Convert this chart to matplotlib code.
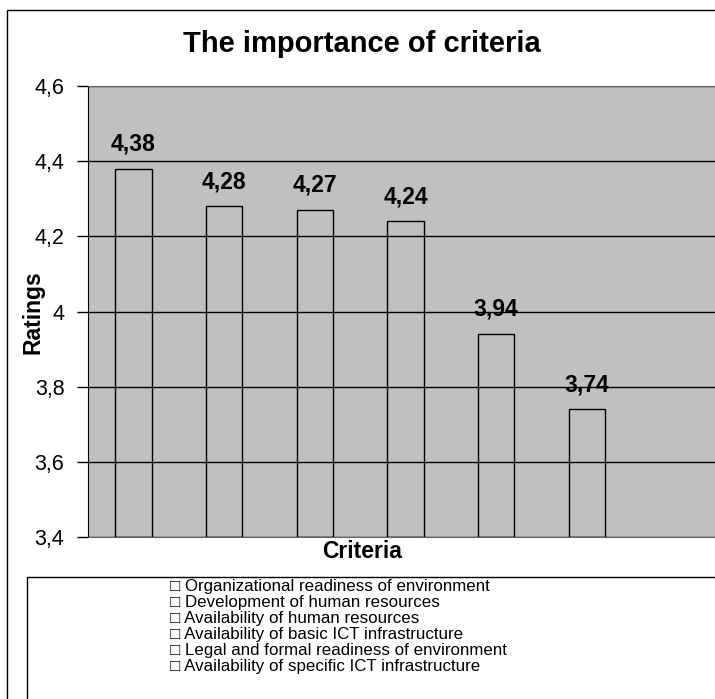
import matplotlib.pyplot as plt
from matplotlib.patches import Rectangle
from matplotlib import ticker

criteria = ['Organizational readiness of environment',
            'Development of human resources',
            'Availability of human resources',
            'Availability of basic ICT infrastructure',
            'Legal and formal readiness of environment',
            'Availability of specific ICT infrastructure']
ratings = [4.38, 4.28, 4.27, 4.24, 3.94, 3.74]
y_ticks = [3.4, 3.6, 3.8, 4.0, 4.2, 4.4, 4.6]

plt.rcParams['font.family'] = ['Liberation Sans', 'DejaVu Sans']

W, H = 715, 699
fig = plt.figure(figsize=(W / 100, H / 100), dpi=100)

# plot area in pixels: left 88, top 86, bottom 537, right past the image edge
left, top, bottom, right = 88, 86, 537, 723
ax = fig.add_axes([left / W, 1 - bottom / H, (right - left) / W, (bottom - top) / H])
ax.set_facecolor('#c0c0c0')

x = list(range(len(ratings)))
ax.bar(x, [r - 3.4 for r in ratings], bottom=3.4, width=0.4,
       fill=False, edgecolor='black', linewidth=1, zorder=3)
for xi, r in zip(x, ratings):
    ax.annotate(f'{r:.2f}'.replace('.', ','), (xi, r), xytext=(0, 13),
                textcoords='offset points', ha='center', va='baseline',
                fontsize=16.5, fontweight='bold', zorder=4)

ax.set_xlim(-0.5, 6.5)
ax.set_ylim(3.4, 4.6)
ax.set_yticks(y_ticks)
ax.yaxis.set_major_formatter(ticker.FuncFormatter(
    lambda v, p: ('%g' % round(v, 1)).replace('.', ',')))
ax.tick_params(axis='y', length=8, width=1, labelsize=15.5, pad=9)
ax.set_xticks([])
ax.grid(axis='y', color='black', linewidth=1, zorder=1)
ax.set_axisbelow(True)
for s in ['top', 'bottom']:
    ax.spines[s].set_color('#666666')
ax.spines['left'].set_color('black')
ax.spines['right'].set_visible(False)

fig.text(362 / W, 1 - 44 / H, 'The importance of criteria', ha='center', va='center',
         fontsize=21, fontweight='bold')
fig.text(33 / W, 1 - 312 / H, 'Ratings', ha='center', va='center', rotation=90,
         fontsize=16.5, fontweight='bold')
fig.text(362 / W, 1 - 551 / H, 'Criteria', ha='center', va='center',
         fontsize=16.5, fontweight='bold')

# outer chart border
fig.patches.append(Rectangle((7 / W, -0.1), 1.2, 1 - 10 / H + 0.1, transform=fig.transFigure,
                             fill=False, edgecolor='black', linewidth=1))
# legend box
fig.patches.append(Rectangle((27 / W, -0.1), 1.2, 1 - 577 / H + 0.1, transform=fig.transFigure,
                             fill=False, edgecolor='black', linewidth=1))
for i, c in enumerate(criteria):
    fig.text(170 / W, 1 - (587 + 16 * i) / H, '\u25a1 ' + c, ha='left', va='center',
             fontsize=12.2)

fig.savefig('out.png', dpi=100)
